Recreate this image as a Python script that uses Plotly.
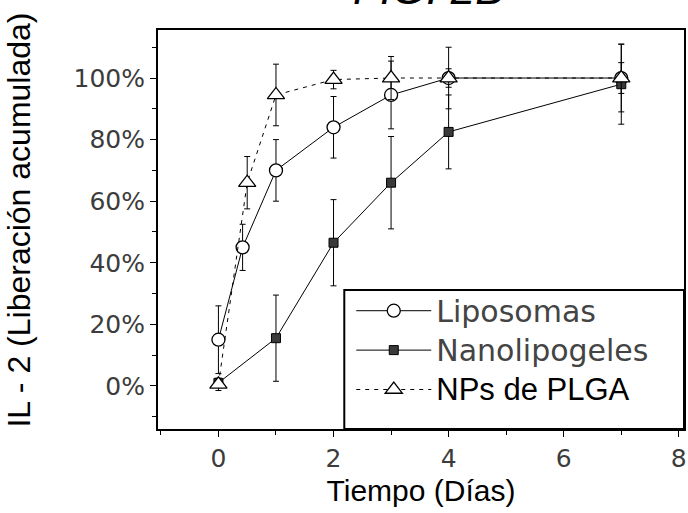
import plotly.graph_objects as go

# ---- data ----
days_lipo = [0, 0.42, 1, 2, 3, 4, 7]
lipo = [15, 45, 70, 84, 94.5, 100, 100]
lipo_err = [11, 7.5, 10, 10, 11, 10, 11]

days_nano = [0, 1, 2, 3, 4, 7]
nano = [1, 15.5, 46.5, 66, 82.5, 98]
nano_err = [1, 14, 14, 15, 12, 13]

days_plga = [0, 0.5, 1, 2, 3, 4, 7]
plga = [0.5, 66, 94.5, 99.5, 100, 100, 100]
plga_err = [2, 8.5, 10, 3, 7, 3, 5]

x_ticks = [0, 2, 4, 6, 8]
y_ticks = [0, 20, 40, 60, 80, 100]
y_ticktext = ["0%", "20%", "40%", "60%", "80%", "100%"]

W, H = 688, 513
L, R, T, B = 158, 2, 30, 84
pw, ph = W - L - R, H - T - B

fig = go.Figure()

err_style = dict(type="data", thickness=1, width=3, color="black")

fig.add_trace(go.Scatter(
    x=days_lipo, y=lipo, name="<span style='color:#444;font-size:30px'>Liposomas</span>",
    mode="lines+markers",
    line=dict(color="black", width=1),
    marker=dict(symbol="circle", size=13, color="white", line=dict(color="black", width=1.3)),
    error_y=dict(array=lipo_err, **err_style),
))
fig.add_trace(go.Scatter(
    x=days_nano, y=nano, name="<span style='color:#444;font-size:30px'>Nanolipogeles</span>",
    mode="lines+markers",
    line=dict(color="black", width=1),
    marker=dict(symbol="square", size=9, color="#3a3a3a", line=dict(color="black", width=1)),
    error_y=dict(array=nano_err, **err_style),
))
fig.add_trace(go.Scatter(
    x=days_plga, y=plga,
    name="<span style='font-family:Liberation Sans;font-size:31px;color:black'>NPs de PLGA</span>",
    mode="lines+markers",
    line=dict(color="black", width=1, dash="4px,5px"),
    marker=dict(symbol="triangle-up", size=15, color="white", line=dict(color="black", width=1.3)),
    error_y=dict(array=plga_err, **err_style),
))

# legend frame
lx0 = (345 - L) / pw
ly1 = (H - B - 290) / ph
fig.add_shape(type="rect", xref="paper", yref="paper", x0=lx0, x1=1, y0=0, y1=ly1,
              line=dict(color="black", width=2), fillcolor="white", layer="above")

fig.add_annotation(text="<i>FIG. 2B</i>", xref="paper", yref="paper",
                   x=(430 - L) / pw, y=1 + (T - 15) / ph, xanchor="center", yanchor="bottom",
                   showarrow=False, font=dict(family="Liberation Sans", size=44, color="black"))

fig.add_annotation(text="IL - 2 (Liberación acumulada)", xref="paper", yref="paper",
                   x=(18 - L) / pw, y=1 - (220 - T) / ph, xanchor="center", yanchor="middle",
                   textangle=-90, showarrow=False,
                   font=dict(family="Liberation Sans", size=32, color="black"))

tickfont = dict(family="DejaVu Sans", size=25, color="#3c3c3c")

fig.update_layout(
    width=W, height=H,
    margin=dict(l=L, r=R, t=T, b=B),
    paper_bgcolor="white", plot_bgcolor="white",
    showlegend=True,
    legend=dict(x=(352 - L) / pw, y=ly1 + 0.01, xanchor="left", yanchor="top",
                bgcolor="rgba(0,0,0,0)", borderwidth=0, itemwidth=75,
                font=dict(family="DejaVu Sans", size=28, color="#444")),
    xaxis=dict(range=[-1.05, 8.09], tickvals=x_ticks, ticks="outside", ticklen=6, tickwidth=1.2,
               tickcolor="black", showline=True, mirror=True, linecolor="black", linewidth=2,
               showgrid=False, zeroline=False, tickfont=tickfont,
               minor=dict(dtick=1, tick0=0, ticks="outside", ticklen=4, tickcolor="black"),
               title=dict(text="Tiempo (Días)", standoff=8,
                          font=dict(family="Liberation Sans", size=30, color="black"))),
    yaxis=dict(range=[-14, 115.6], tickvals=y_ticks, ticktext=y_ticktext, ticks="outside", ticklen=6,
               tickwidth=1.2, tickcolor="black", showline=True, mirror=True, linecolor="black",
               linewidth=2, showgrid=False, zeroline=False, tickfont=tickfont,
               minor=dict(dtick=10, tick0=0, ticks="outside", ticklen=4, tickcolor="black")),
)

fig.write_html("out.html")
